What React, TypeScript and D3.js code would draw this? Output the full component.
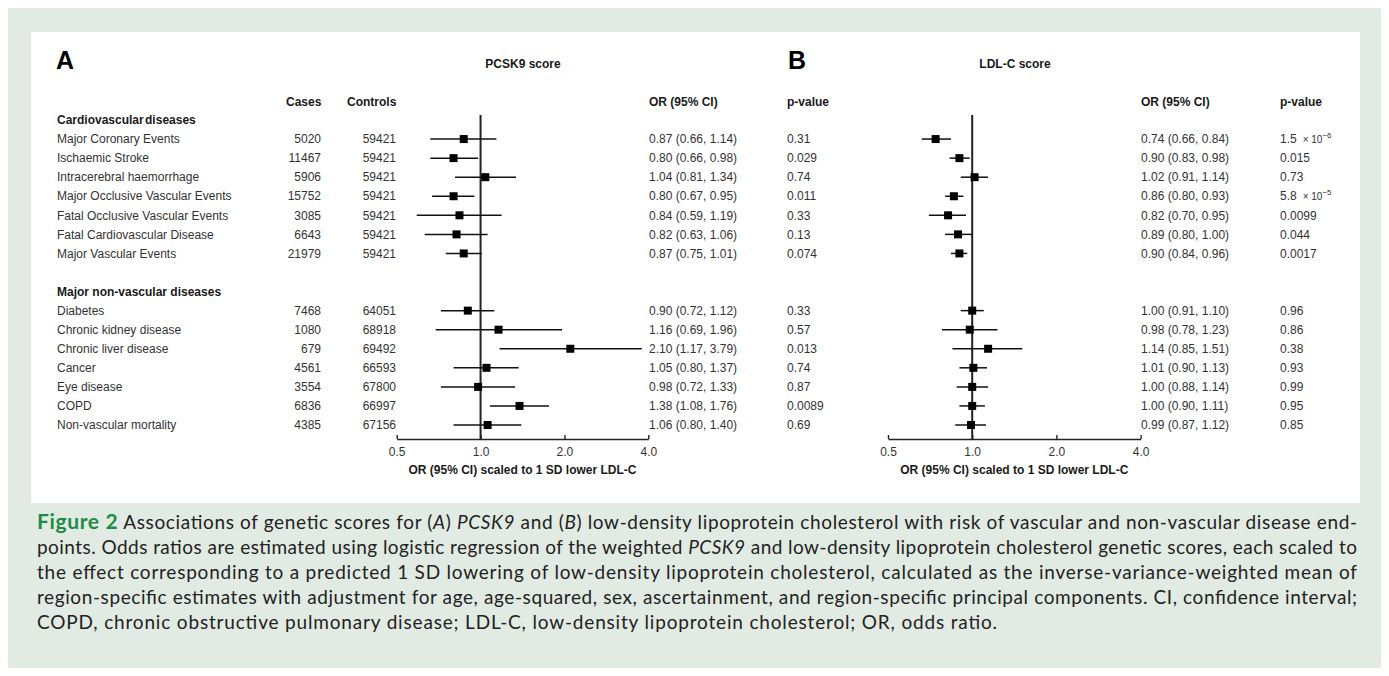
import { useEffect, useRef } from 'react';
import * as d3 from 'd3';

// Row labels and counts
const cvLabels = [
  'Major Coronary Events',
  'Ischaemic Stroke',
  'Intracerebral haemorrhage',
  'Major Occlusive Vascular Events',
  'Fatal Occlusive Vascular Events',
  'Fatal Cardiovascular Disease',
  'Major Vascular Events',
];
const nvLabels = [
  'Diabetes',
  'Chronic kidney disease',
  'Chronic liver disease',
  'Cancer',
  'Eye disease',
  'COPD',
  'Non-vascular mortality',
];
const cases = [5020, 11467, 5906, 15752, 3085, 6643, 21979, 7468, 1080, 679, 4561, 3554, 6836, 4385];
const controls = [59421, 59421, 59421, 59421, 59421, 59421, 59421, 64051, 68918, 69492, 66593, 67800, 66997, 67156];

// PCSK9 score estimates
const pcskOR = [0.87, 0.8, 1.04, 0.8, 0.84, 0.82, 0.87, 0.9, 1.16, 2.1, 1.05, 0.98, 1.38, 1.06];
const pcskLo = [0.66, 0.66, 0.81, 0.67, 0.59, 0.63, 0.75, 0.72, 0.69, 1.17, 0.8, 0.72, 1.08, 0.8];
const pcskHi = [1.14, 0.98, 1.34, 0.95, 1.19, 1.06, 1.01, 1.12, 1.96, 3.79, 1.37, 1.33, 1.76, 1.4];
const pcskP = ['0.31', '0.029', '0.74', '0.011', '0.33', '0.13', '0.074', '0.33', '0.57', '0.013', '0.74', '0.87', '0.0089', '0.69'];

// LDL-C score estimates
const ldlOR = [0.74, 0.9, 1.02, 0.86, 0.82, 0.89, 0.9, 1.0, 0.98, 1.14, 1.01, 1.0, 1.0, 0.99];
const ldlLo = [0.66, 0.83, 0.91, 0.8, 0.7, 0.8, 0.84, 0.91, 0.78, 0.85, 0.9, 0.88, 0.9, 0.87];
const ldlHi = [0.84, 0.98, 1.14, 0.93, 0.95, 1.0, 0.96, 1.1, 1.23, 1.51, 1.13, 1.14, 1.11, 1.12];
const ldlP = ['1.5|-6', '0.015', '0.73', '5.8|-5', '0.0099', '0.044', '0.0017', '0.96', '0.86', '0.38', '0.93', '0.99', '0.95', '0.85'];

const tickValues = [0.5, 1, 2, 4];

const FONT = '"Liberation Sans", Arial, sans-serif';
const TXT = '#333';

const fmt = (v: number) => v.toFixed(2);

// row index -> grid slot (header, 7 rows, blank, header, 7 rows)
const slotOf = (i: number) => (i < 7 ? i + 1 : i + 3);
const yRow = d3.scaleLinear().domain([0, 16]).range([120, 425]);

function Axis({ scale, y }: { scale: d3.ScaleLogarithmic<number, number>; y: number }) {
  const ref = useRef<SVGGElement>(null);
  useEffect(() => {
    const g = d3.select(ref.current);
    g.selectAll('*').remove();
    g.call(
      d3.axisBottom(scale)
        .tickValues(tickValues)
        .tickSizeInner(-4)
        .tickSizeOuter(0)
        .tickPadding(8)
        .tickFormat((d) => (d as number).toFixed(1))
    );
    g.select('.domain').attr('stroke', '#222').attr('stroke-width', 1.6);
    g.selectAll('.tick line').attr('stroke', '#222').attr('stroke-width', 1.4);
    g.selectAll('.tick text').attr('fill', TXT).attr('font-size', 12).attr('font-family', FONT);
  }, [scale, y]);
  return <g ref={ref} transform={`translate(0,${y})`} />;
}

function PValue({ x, y, p }: { x: number; y: number; p: string }) {
  if (p.includes('|')) {
    const [m, e] = p.split('|');
    return (
      <text x={x} y={y} dy=".35em" fontSize={12} fill={TXT} fontFamily={FONT}>
        {m}
        <tspan fontSize={10} dx={6}>× 10</tspan>
        <tspan fontSize={8} dy={-5}>{e.replace('-', '−')}</tspan>
      </text>
    );
  }
  return (
    <text x={x} y={y} dy=".35em" fontSize={12} fill={TXT} fontFamily={FONT}>
      {p}
    </text>
  );
}

function Forest({
  scale, or, lo, hi, p, orX, pX, axisY,
}: {
  scale: d3.ScaleLogarithmic<number, number>;
  or: number[]; lo: number[]; hi: number[]; p: string[];
  orX: number; pX: number; axisY: number;
}) {
  return (
    <g>
      <line x1={scale(1)} x2={scale(1)} y1={115} y2={axisY} stroke="#222" strokeWidth={2} />
      {or.map((v, i) => {
        const y = yRow(slotOf(i));
        return (
          <g key={i}>
            <line x1={scale(lo[i])} x2={scale(hi[i])} y1={y} y2={y} stroke="#111" strokeWidth={1.5} />
            <rect x={scale(v) - 4} y={y - 4} width={8} height={8} fill="#000" />
            <text x={orX} y={y} dy=".35em" fontSize={12} fill={TXT} fontFamily={FONT}>
              {`${fmt(v)} (${fmt(lo[i])}, ${fmt(hi[i])})`}
            </text>
            <PValue x={pX} y={y} p={p[i]} />
          </g>
        );
      })}
      <Axis scale={scale} y={axisY} />
      <text x={(scale(0.5) + scale(4)) / 2} y={470} dy=".35em" textAnchor="middle"
        fontSize={12} fontWeight="bold" fill="#1a1a1a" fontFamily={FONT}>
        OR (95% CI) scaled to 1 SD lower LDL-C
      </text>
    </g>
  );
}

const captionFont = 'Lato, "Open Sans", sans-serif';

export default function App() {
  const xA = d3.scaleLog().domain([0.5, 4]).range([396.7, 648.3]);
  const xB = d3.scaleLog().domain([0.5, 4]).range([888, 1140.6]);
  const axisY = 439;
  const allLabels = [...cvLabels, ...nvLabels];
  const bold = { fontWeight: 'bold' as const, fill: '#1a1a1a', fontFamily: FONT, fontSize: 12 };

  const capX = 37;
  const capW = 1320;
  const capY = [529, 554, 579, 604, 629];

  return (
    <svg width={1373} height={660} style={{ display: 'block' }}>
      <g transform="translate(-8,-8)">
        <rect x={8} y={8} width={1373} height={660} fill="#e2ebe3" />
        <rect x={31} y={32} width={1329} height={471} fill="#fff" />

        <text x={56} y={60} dy=".35em" fontSize={25} fontWeight="bold" fill="#000" fontFamily={FONT}>A</text>
        <text x={788} y={60} dy=".35em" fontSize={25} fontWeight="bold" fill="#000" fontFamily={FONT}>B</text>
        <text x={523} y={64} dy=".35em" textAnchor="middle" {...bold}>PCSK9 score</text>
        <text x={1015} y={64} dy=".35em" textAnchor="middle" {...bold}>LDL-C score</text>

        <text x={286} y={102} dy=".35em" {...bold}>Cases</text>
        <text x={347} y={102} dy=".35em" {...bold}>Controls</text>
        <text x={649} y={102} dy=".35em" {...bold}>OR (95% CI)</text>
        <text x={787} y={102} dy=".35em" {...bold}>p-value</text>
        <text x={1141} y={102} dy=".35em" {...bold}>OR (95% CI)</text>
        <text x={1280} y={102} dy=".35em" {...bold}>p-value</text>

        <text x={57} y={yRow(0)} dy=".35em" {...bold} wordSpacing={-2}>Cardiovascular diseases</text>
        <text x={57} y={yRow(9)} dy=".35em" {...bold}>Major non-vascular diseases</text>

        {allLabels.map((l, i) => {
          const y = yRow(slotOf(i));
          return (
            <g key={l}>
              <text x={57} y={y} dy=".35em" fontSize={12} fill={TXT} fontFamily={FONT}>{l}</text>
              <text x={321} y={y} dy=".35em" textAnchor="end" fontSize={12} fill={TXT} fontFamily={FONT}>{cases[i]}</text>
              <text x={396} y={y} dy=".35em" textAnchor="end" fontSize={12} fill={TXT} fontFamily={FONT}>{controls[i]}</text>
            </g>
          );
        })}

        <Forest scale={xA} or={pcskOR} lo={pcskLo} hi={pcskHi} p={pcskP} orX={649} pX={787} axisY={axisY} />
        <Forest scale={xB} or={ldlOR} lo={ldlLo} hi={ldlHi} p={ldlP} orX={1141} pX={1280} axisY={axisY} />

        <g fontFamily={captionFont} fontSize={19} fill="#222">
          <text x={capX} y={capY[0]} textLength={capW} lengthAdjust="spacing">
            <tspan fontWeight="bold" fill="#1e8b47" fontSize={21}>Figure 2</tspan>
            {'  Associations of genetic scores for ('}<tspan fontStyle="italic">A</tspan>{') '}
            <tspan fontStyle="italic">PCSK9</tspan>{' and ('}<tspan fontStyle="italic">B</tspan>
            {') low-density lipoprotein cholesterol with risk of vascular and non-vascular disease end-'}
          </text>
          <text x={capX} y={capY[1]} textLength={capW} lengthAdjust="spacing">
            {'points. Odds ratios are estimated using logistic regression of the weighted '}
            <tspan fontStyle="italic">PCSK9</tspan>
            {' and low-density lipoprotein cholesterol genetic scores, each scaled to'}
          </text>
          <text x={capX} y={capY[2]} textLength={capW} lengthAdjust="spacing">
            the effect corresponding to a predicted 1 SD lowering of low-density lipoprotein cholesterol, calculated as the inverse-variance-weighted mean of
          </text>
          <text x={capX} y={capY[3]} textLength={capW} lengthAdjust="spacing">
            region-specific estimates with adjustment for age, age-squared, sex, ascertainment, and region-specific principal components. CI, confidence interval;
          </text>
          <text x={capX} y={capY[4]} textLength={960} lengthAdjust="spacing">
            COPD, chronic obstructive pulmonary disease; LDL-C, low-density lipoprotein cholesterol; OR, odds ratio.
          </text>
        </g>
      </g>
    </svg>
  );
}
